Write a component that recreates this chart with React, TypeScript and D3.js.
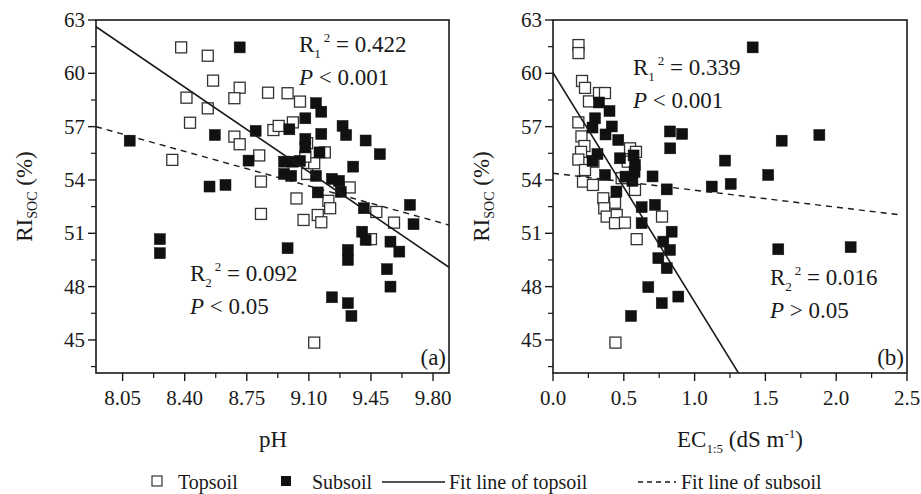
import React from "react";
import * as d3 from "d3";

// [pH, RI_SOC %]
const topsoilPH: [number, number][] = [
  [8.38, 61.46], [8.53, 60.99], [8.56, 59.59], [8.71, 59.19], [8.68, 58.6], [8.87, 58.91],
  [8.41, 58.63], [8.53, 58.03], [8.43, 57.22], [8.68, 56.44], [8.71, 56.01], [8.33, 55.13],
  [8.82, 55.38], [8.83, 53.91], [8.9, 56.81], [8.93, 57.04], [8.98, 58.88], [9.05, 58.41],
  [9.01, 57.24], [9.09, 54.34], [9.13, 54.94], [9.19, 55.55], [9.33, 53.58], [9.03, 52.96],
  [9.21, 52.83], [9.22, 52.41], [9.15, 52.03], [9.07, 51.75], [8.83, 52.09], [9.48, 52.2],
  [9.58, 51.6], [9.45, 50.67], [9.17, 51.62], [9.13, 44.85], [9.09, 56.07], [9.08, 55.31],
];
const subsoilPH: [number, number][] = [
  [8.71, 61.46], [8.8, 56.76], [8.57, 56.53], [8.09, 56.21], [8.76, 55.09], [8.54, 53.63],
  [8.63, 53.72], [8.99, 56.85], [9.08, 57.47], [9.14, 58.32], [9.17, 57.84], [9.29, 57.04],
  [9.31, 56.53], [9.42, 56.22], [9.5, 55.45], [9.08, 56.31], [9.08, 55.83], [9.16, 55.55],
  [9.17, 56.59], [8.96, 55.03], [9.01, 55.03], [9.05, 55.07], [9.35, 54.75], [8.96, 54.34],
  [9.0, 54.23], [9.14, 54.23], [9.23, 54.06], [9.27, 53.95], [9.28, 53.33], [9.15, 53.3],
  [9.41, 52.41], [9.67, 52.6], [9.69, 51.51], [9.4, 51.09], [9.42, 50.63], [9.56, 50.53],
  [9.61, 49.97], [8.98, 50.16], [9.32, 50.06], [9.32, 49.5], [9.54, 48.98], [9.56, 48.0],
  [9.23, 47.4], [9.32, 47.07], [9.34, 46.35], [8.26, 50.67], [8.26, 49.88],
];

// [EC1:5 dS/m, RI_SOC %]
const topsoilEC: [number, number][] = [
  [0.18, 61.59], [0.18, 61.14], [0.205, 59.57], [0.226, 59.18], [0.254, 58.42], [0.325, 58.89],
  [0.367, 58.89], [0.179, 57.24], [0.201, 56.45], [0.222, 55.91], [0.198, 55.58], [0.179, 55.15],
  [0.285, 55.03], [0.226, 54.56], [0.212, 53.91], [0.282, 53.72], [0.544, 55.78], [0.586, 55.58],
  [0.528, 55.03], [0.485, 54.1], [0.579, 53.44], [0.355, 52.97], [0.438, 52.72], [0.362, 52.41],
  [0.379, 51.94], [0.45, 52.03], [0.438, 51.57], [0.508, 51.6], [0.77, 51.94], [0.591, 50.67],
  [0.441, 44.85],
];
const subsoilEC: [number, number][] = [
  [0.325, 58.36], [0.399, 57.88], [0.297, 57.47], [0.279, 56.95], [0.415, 57.01], [0.371, 56.56],
  [0.461, 56.25], [0.314, 55.46], [0.473, 55.22], [0.569, 55.38], [0.579, 54.85], [0.279, 55.07],
  [0.367, 54.28], [0.512, 54.19], [0.576, 54.45], [0.561, 53.95], [0.703, 54.2], [0.803, 53.47],
  [0.448, 53.35], [0.826, 56.73], [0.912, 56.59], [0.828, 55.78], [0.626, 52.47], [0.72, 52.6],
  [0.626, 51.57], [0.838, 51.09], [0.779, 50.53], [0.826, 50.06], [0.744, 49.6], [0.803, 49.04],
  [0.673, 47.97], [0.768, 47.07], [0.885, 47.44], [0.551, 46.35], [1.41, 61.46], [1.615, 56.21],
  [1.881, 56.53], [1.215, 55.09], [1.52, 54.28], [1.121, 53.63], [1.255, 53.78], [1.591, 50.1],
  [2.102, 50.22],
];

const pHTicks = [8.05, 8.4, 8.75, 9.1, 9.45, 9.8];
const ecTicks = [0, 0.5, 1.0, 1.5, 2.0, 2.5];
const riTicks = [45, 48, 51, 54, 57, 60, 63];

// fit lines: [intercept, slope]
const fitTopPH = [116.34, -6.8];
const fitSubPH = [78.96, -2.78];
const fitTopEC = [60.04, -12.9];
const fitSubEC = [54.38, -0.955];

const FONT = "'Liberation Serif', 'Times New Roman', serif";
const TOP = 20;
const BOTTOM = 373;
const INK = "#1a1a1a";

function midpoints(t: number[], lo: number, hi: number) {
  const step = t[1] - t[0];
  const out: number[] = [];
  for (let v = t[0] - step / 2; v <= hi; v += step) if (v >= lo) out.push(v);
  return out;
}

function Panel(props: any) {
  const { x0, x1, xDomain, xTicks, fmt, top, sub, fitTop, fitSub, subEnd, id } = props;
  const x = d3.scaleLinear().domain(xDomain).range([x0, x1]);
  const y = d3.scaleLinear().domain([43.14, 63]).range([BOTTOM, TOP]);
  const line = d3
    .line<number>()
    .x((d) => x(d))
    .y((d) => y(fitTop[0] + fitTop[1] * d));
  const lineSub = d3
    .line<number>()
    .x((d) => x(d))
    .y((d) => y(fitSub[0] + fitSub[1] * d));
  const xMinor = midpoints(xTicks, xDomain[0], xDomain[1]);
  const yMinor = midpoints(riTicks, 43.14, 63);
  const s = 11;

  return (
    <g>
      <defs>
        <clipPath id={id}>
          <rect x={x0} y={TOP} width={x1 - x0} height={BOTTOM - TOP} />
        </clipPath>
      </defs>
      {top.map((d: number[], i: number) => (
        <rect key={"t" + i} x={x(d[0]) - s / 2} y={y(d[1]) - s / 2} width={s} height={s}
          fill="#fff" stroke="#333" strokeWidth={1.3} />
      ))}
      {sub.map((d: number[], i: number) => (
        <rect key={"s" + i} x={x(d[0]) - s / 2} y={y(d[1]) - s / 2} width={s} height={s}
          fill="#111" stroke="#111" strokeWidth={0.5} />
      ))}
      <g clipPath={`url(#${id})`}>
        <path d={line([xDomain[0], xDomain[1]]) || ""} stroke={INK} strokeWidth={1.6} fill="none" />
        <path d={lineSub([xDomain[0], subEnd]) || ""} stroke={INK} strokeWidth={1.4}
          strokeDasharray="6,5" fill="none" />
      </g>
      <rect x={x0} y={TOP} width={x1 - x0} height={BOTTOM - TOP} fill="none" stroke={INK} strokeWidth={1.6} />
      {xTicks.map((t: number) => (
        <g key={"xt" + t}>
          <line x1={x(t)} x2={x(t)} y1={BOTTOM} y2={BOTTOM + 8} stroke={INK} strokeWidth={1.4} />
          <text x={x(t)} y={405} textAnchor="middle" fontSize={21} fontFamily={FONT} fill={INK}>
            {fmt(t)}
          </text>
        </g>
      ))}
      {xMinor.map((t: number) => (
        <line key={"xm" + t} x1={x(t)} x2={x(t)} y1={BOTTOM} y2={BOTTOM + 5} stroke={INK} strokeWidth={1.2} />
      ))}
      {riTicks.map((t) => (
        <g key={"yt" + t}>
          <line x1={x0 - 8} x2={x0} y1={y(t)} y2={y(t)} stroke={INK} strokeWidth={1.4} />
          <text x={x0 - 11} y={y(t) + 7} textAnchor="end" fontSize={21} fontFamily={FONT} fill={INK}>
            {t}
          </text>
        </g>
      ))}
      {yMinor.map((t) => (
        <line key={"ym" + t} x1={x0 - 5} x2={x0} y1={y(t)} y2={y(t)} stroke={INK} strokeWidth={1.2} />
      ))}
      <text transform={`translate(${x0 - 64},${(TOP + BOTTOM) / 2}) rotate(-90)`} textAnchor="middle"
        fontSize={23} fontFamily={FONT} fill={INK}>
        RI<tspan fontSize={14} dy={5}>SOC</tspan>
        <tspan dy={-5}> (%)</tspan>
      </text>
    </g>
  );
}

function Stat({ x, y, idx, r2, rel, p }: any) {
  return (
    <g fontFamily={FONT} fontSize={23} fill={INK}>
      <text x={x} y={y}>
        R<tspan fontSize={13} dy={6}>{idx}</tspan>
        <tspan fontSize={13} dy={-16} dx={3}>2</tspan>
        <tspan dy={10}> = {r2}</tspan>
      </text>
      <text x={x} y={y + 33}>
        <tspan fontStyle="italic">P</tspan> {rel} {p}
      </text>
    </g>
  );
}

export default function App() {
  return (
    <svg width={921} height={494} style={{ position: "absolute", left: 0, top: 0, background: "#fff" }}>
      <Panel id="clipA" x0={96} x1={449} xDomain={[7.9, 9.89]} xTicks={pHTicks}
        fmt={(v: number) => v.toFixed(2)} top={topsoilPH} sub={subsoilPH}
        fitTop={fitTopPH} fitSub={fitSubPH} subEnd={9.89} />
      <Panel id="clipB" x0={553} x1={907} xDomain={[0, 2.5]} xTicks={ecTicks}
        fmt={(v: number) => v.toFixed(1)} top={topsoilEC} sub={subsoilEC}
        fitTop={fitTopEC} fitSub={fitSubEC} subEnd={2.46} />

      <Stat x={299} y={52} idx="1" r2="0.422" rel="<" p="0.001" />
      <Stat x={190} y={281} idx="2" r2="0.092" rel="<" p="0.05" />
      <Stat x={633} y={75} idx="1" r2="0.339" rel="<" p="0.001" />
      <Stat x={770} y={285} idx="2" r2="0.016" rel=">" p="0.05" />

      <text x={446} y={365} textAnchor="end" fontFamily={FONT} fontSize={23} fill={INK}>(a)</text>
      <text x={904} y={365} textAnchor="end" fontFamily={FONT} fontSize={23} fill={INK}>(b)</text>

      <text x={273} y={447} textAnchor="middle" fontFamily={FONT} fontSize={23} fill={INK}>pH</text>
      <text x={740} y={447} textAnchor="middle" fontFamily={FONT} fontSize={23} fill={INK}>
        EC<tspan fontSize={13} dy={6}>1:5</tspan>
        <tspan dy={-6}> (dS m</tspan>
        <tspan fontSize={13} dy={-9}>-1</tspan>
        <tspan dy={9}>)</tspan>
      </text>

      <g fontFamily={FONT} fontSize={20} fill={INK}>
        <rect x={152} y={476} width={10} height={10} fill="#fff" stroke="#333" strokeWidth={1.2} />
        <text x={178} y={489}>Topsoil</text>
        <rect x={281} y={476} width={10} height={10} fill="#111" />
        <text x={312} y={489}>Subsoil</text>
        <line x1={382} x2={445} y1={482} y2={482} stroke={INK} strokeWidth={1.5} />
        <text x={449} y={489}>Fit line of topsoil</text>
        <line x1={638} x2={676} y1={482} y2={482} stroke={INK} strokeWidth={1.5} strokeDasharray="5,4" />
        <text x={681} y={489}>Fit line of subsoil</text>
      </g>
    </svg>
  );
}
